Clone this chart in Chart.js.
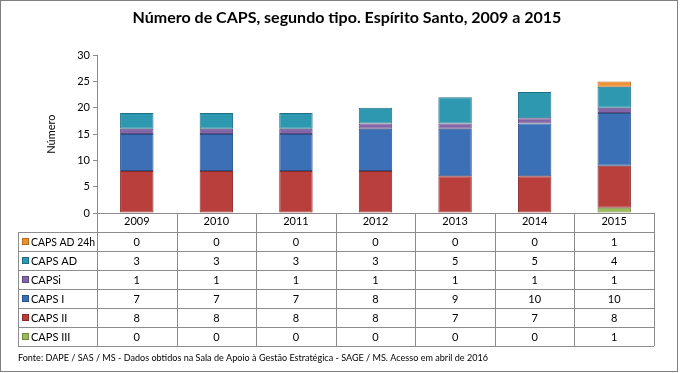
<!DOCTYPE html>
<html>
<head>
<meta charset="utf-8">
<script src="https://cdn.jsdelivr.net/npm/chart.js@4/dist/chart.umd.min.js"></script>
<style>
  body { margin: 0; background: #fff; }
  #wrap { width: 680px; height: 373px; }
</style>
</head>
<body>
<div id="wrap"><canvas id="caps" width="680" height="373"></canvas></div>
<script>
// dados
const anos = ['2009', '2010', '2011', '2012', '2013', '2014', '2015'];
const capsIII = [0, 0, 0, 0, 0, 0, 1];
const capsII = [8, 8, 8, 8, 7, 7, 8];
const capsI = [7, 7, 7, 8, 9, 10, 10];
const capsi = [1, 1, 1, 1, 1, 1, 1];
const capsAD = [3, 3, 3, 3, 5, 5, 4];
const capsAD24h = [0, 0, 0, 0, 0, 0, 1];
const yTicks = [0, 5, 10, 15, 20, 25, 30];

const titulo = 'Número de CAPS, segundo tipo. Espírito Santo, 2009 a 2015';
const fonte = 'Fonte: DAPE / SAS / MS - Dados obtidos na Sala de Apoio à Gestão Estratégica - SAGE / MS. Acesso em abril de 2016';

const FONT = 'Lato, "Open Sans", sans-serif';
const ROW_H = 19;

function ds(label, data, fill, border) {
  return {
    label: label, data: data,
    backgroundColor: fill, borderColor: border,
    // sem borda nos segmentos de valor zero
    borderWidth: c => (c.raw ? 1 : 0),
    borderSkipped: false,
    barPercentage: 0.42, categoryPercentage: 1
  };
}

// tabela de dados + moldura
const tabela = {
  id: 'tabela',
  afterDraw(chart) {
    const ctx = chart.ctx;
    const x = chart.scales.x;
    const area = chart.chartArea;
    const step = x.getPixelForValue(1) - x.getPixelForValue(0);
    const left0 = x.getPixelForValue(0) - step / 2;
    const right = x.getPixelForValue(anos.length - 1) + step / 2;
    const tabLeft = 18;
    const headTop = area.bottom;
    const rowsTop = headTop + ROW_H;
    const sets = chart.data.datasets.slice().reverse();
    const bottom = rowsTop + ROW_H * sets.length;

    ctx.save();
    ctx.strokeStyle = '#8c8c8c';
    ctx.lineWidth = 1;
    ctx.beginPath();
    // verticais
    for (let i = 0; i <= anos.length; i++) {
      const xx = Math.round(left0 + step * i) + 0.5;
      ctx.moveTo(xx, i === 0 ? area.top : headTop);
      ctx.lineTo(xx, bottom);
    }
    ctx.moveTo(tabLeft + 0.5, rowsTop);
    ctx.lineTo(tabLeft + 0.5, bottom);
    // horizontais
    for (let r = 0; r <= sets.length; r++) {
      const yy = Math.round(rowsTop + ROW_H * r) + 0.5;
      ctx.moveTo(tabLeft, yy);
      ctx.lineTo(right, yy);
    }
    ctx.stroke();

    ctx.font = '11px ' + FONT;
    ctx.textBaseline = 'middle';
    ctx.fillStyle = '#000';
    sets.forEach((s, r) => {
      const cy = rowsTop + ROW_H * r + ROW_H / 2 + 0.5;
      ctx.fillStyle = s.backgroundColor;
      ctx.fillRect(tabLeft + 4, cy - 4, 7, 7);
      ctx.strokeStyle = s.borderColor;
      ctx.strokeRect(tabLeft + 4.5, cy - 3.5, 6, 6);
      ctx.fillStyle = '#000';
      ctx.textAlign = 'left';
      ctx.fillText(s.label, tabLeft + 13, cy, left0 - tabLeft - 15);
      ctx.textAlign = 'center';
      s.data.forEach((v, i) => ctx.fillText(String(v), x.getPixelForValue(i), cy));
    });

    // fonte
    ctx.font = '10px ' + FONT;
    ctx.textAlign = 'left';
    ctx.fillText(fonte, 18, 358, 470);

    // moldura
    ctx.strokeStyle = '#7f7f7f';
    ctx.strokeRect(0.5, 0.5, 677, 371);
    ctx.restore();
  }
};

new Chart(document.getElementById('caps'), {
  type: 'bar',
  data: {
    labels: anos,
    datasets: [
      ds('CAPS III', capsIII, '#9bbb59', '#71893f'),
      ds('CAPS II', capsII, '#b93f3c', '#8a2a28'),
      ds('CAPS I', capsI, '#3b70b6', '#2a5288'),
      ds('CAPSi', capsi, '#8466a8', '#5f4a7d'),
      ds('CAPS AD', capsAD, '#2e98b1', '#1f7085'),
      ds('CAPS AD 24h', capsAD24h, '#f0912f', '#b86a1e')
    ]
  },
  options: {
    responsive: false,
    animation: false,
    layout: { padding: { left: 40, right: 26, top: 8, bottom: 4 + ROW_H * 6 + 23 } },
    plugins: {
      legend: { display: false },
      tooltip: { enabled: false },
      title: {
        display: true, text: titulo, color: '#000',
        font: { family: FONT, size: 16, weight: 'bold' },
        padding: { top: 0, bottom: 28 }
      }
    },
    scales: {
      x: {
        stacked: true,
        grid: { display: false, tickLength: 0 },
        border: { display: true, color: '#8c8c8c' },
        ticks: { color: '#000', font: { family: FONT, size: 11 }, padding: 2, maxRotation: 0 },
        afterFit(s) { s.height = ROW_H; }
      },
      y: {
        stacked: true, min: 0, max: 30,
        afterBuildTicks(s) { s.ticks = yTicks.map(v => ({ value: v })); },
        grid: { drawOnChartArea: false, tickLength: 4, color: '#8c8c8c' },
        border: { color: '#8c8c8c' },
        ticks: { color: '#000', font: { family: FONT, size: 11 }, padding: 3 },
        title: { display: true, text: 'Número', color: '#000', font: { family: FONT, size: 11 }, padding: { top: 5, bottom: 0 } },
        afterFit(s) { s.width = 57; }
      }
    }
  },
  plugins: [tabela]
});
</script>
</body>
</html>
